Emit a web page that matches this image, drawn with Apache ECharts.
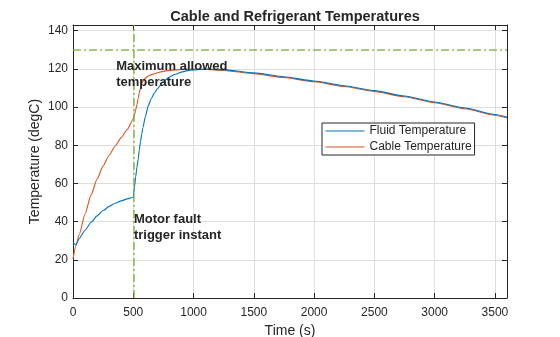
<!DOCTYPE html>
<html>
<head>
<meta charset="utf-8">
<script src="https://cdn.jsdelivr.net/npm/echarts@6/dist/echarts.min.js"></script>
<style>
  html, body { margin: 0; padding: 0; background: #fff; }
  #chart { width: 560px; height: 337px; }
</style>
</head>
<body>
<div id="chart"></div>
<script>
// Simulation time (s) and the two temperature traces (degC)
const timeSec = [0, 25, 50, 100, 150, 200, 250, 300, 350, 400, 450, 500,
  510, 520, 530, 540, 550, 560, 570, 580,
  600, 625, 650, 675, 700,
  750, 800, 850, 900, 950, 1000,
  1100, 1250, 1500, 1750, 2000, 2250, 2500, 2750, 3000, 3250, 3500, 3600];
const fluidTemp = [29, 27.8, 31, 35.5, 39.7, 43, 45.8, 48, 49.6, 50.9, 51.9, 52.8,
  58.2, 63.5, 68.3, 72.5, 77.5, 82, 85.8, 89.2,
  95, 100.8, 104.5, 107.3, 109.6,
  113.5, 115.8, 117.2, 118.3, 119.1, 119.5,
  119.9, 119.6, 117.9, 115.9, 113.7, 111.2, 108.6, 105.8, 102.7, 99.5, 96.1, 94.8];
const cableTemp = [20.5, 27.5, 33, 44, 54, 62.3, 69.2, 74.8, 79.6, 84, 88.3, 93.8,
  96, 98.5, 101.2, 104.5, 107.5, 110, 112, 113.5,
  115.2, 116.3, 117, 117.5, 118,
  118.7, 119.2, 119.5, 119.7, 119.8, 119.8,
  119.7, 119.2, 117.5, 115.5, 113.3, 110.8, 108.2, 105.4, 102.3, 99.1, 95.7, 94.3];

const seriesNames = ['Fluid Temperature', 'Cable Temperature'];
const maxAllowedTemp = 130;   // horizontal limit line
const faultTime = 500;        // vertical fault marker
const xRange = [0, 3600, 500];
const yRange = [0, 143, 20];
const annotations = [
  { text: 'Maximum allowed\ntemperature', at: [358, 125.6] },
  { text: 'Motor fault\ntrigger instant', at: [505, 45.3] }
];

const FONT = '"Liberation Sans", Arial, sans-serif';
const INK = '#262626';
const BLUE = '#0072BD';
const ORANGE = '#D95319';
const GREEN = '#77AC30';

const chart = echarts.init(document.getElementById('chart'), null, { renderer: 'canvas' });

const tickLabel = (step) => (v) => (Math.abs(v / step - Math.round(v / step)) < 1e-9 ? String(v) : '');

function baseAxis(range, extra) {
  return Object.assign({
    type: 'value', min: range[0], max: range[1], interval: range[2],
    axisLine: { show: true, onZero: false, lineStyle: { color: INK, width: 1 } },
    axisTick: { show: true, inside: true, length: 5, lineStyle: { color: INK } },
    splitLine: { show: false },
    axisLabel: { show: false }
  }, extra);
}

const option = {
  animation: false,
  backgroundColor: '#ffffff',
  textStyle: { fontFamily: FONT },
  title: {
    text: 'Cable and Refrigerant Temperatures',
    left: 290, top: 4, textAlign: 'center',
    textStyle: { fontFamily: FONT, fontSize: 14.5, fontWeight: 'bold', color: INK }
  },
  grid: { left: 73, right: 53, top: 25, bottom: 39, containLabel: false, outerBoundsMode: 'none' },
  legend: {
    orient: 'vertical', left: 322, top: 123,
    data: seriesNames,
    itemWidth: 39, itemHeight: 10, itemGap: 4,
    padding: [2, 3, 2, 3],
    borderColor: INK, borderWidth: 1, backgroundColor: '#fff',
    itemStyle: { opacity: 0 },
    lineStyle: { width: 1 },
    textStyle: { fontFamily: FONT, fontSize: 12, color: INK }
  },
  xAxis: [
    baseAxis(xRange, {
      position: 'bottom',
      name: 'Time (s)', nameLocation: 'middle', nameGap: 26,
      nameTextStyle: { fontFamily: FONT, fontSize: 14, color: INK },
      axisTick: { show: true, inside: false, length: -5, lineStyle: { color: INK } },
      splitLine: { show: true, lineStyle: { color: '#dedede', width: 1 } },
      axisLabel: { show: true, margin: 9, fontFamily: FONT, fontSize: 12, color: INK, formatter: tickLabel(xRange[2]) }
    }),
    baseAxis(xRange, { position: 'top' })
  ],
  yAxis: [
    baseAxis(yRange, {
      position: 'left',
      name: 'Temperature (degC)', nameLocation: 'middle', nameGap: 31, nameMoveOverlap: false,
      nameTextStyle: { fontFamily: FONT, fontSize: 14, color: INK },
      axisTick: { show: true, inside: false, length: -5, lineStyle: { color: INK } },
      splitLine: { show: true, lineStyle: { color: '#dedede', width: 1 } },
      axisLabel: { show: true, margin: 5, fontFamily: FONT, fontSize: 12, color: INK, formatter: tickLabel(yRange[2]) }
    }),
    baseAxis(yRange, { position: 'right' })
  ],
  series: [
    {
      name: seriesNames[0], type: 'line', symbol: 'none',
      smooth: 0.2, smoothMonotone: 'x',
      data: timeSec.map((t, i) => [t, fluidTemp[i]]),
      lineStyle: { color: BLUE, width: 1.1 }, itemStyle: { color: BLUE },
      z: 3,
      markLine: {
        silent: true, symbol: 'none',
        label: { show: false },
        lineStyle: { color: GREEN, width: 1.5, type: [8, 3, 2, 3], opacity: 0.85 },
        data: [{ yAxis: maxAllowedTemp }, { xAxis: faultTime }]
      }
    },
    {
      name: seriesNames[1], type: 'line', symbol: 'none',
      smooth: 0.2, smoothMonotone: 'x',
      data: timeSec.map((t, i) => [t, cableTemp[i]]),
      lineStyle: { color: ORANGE, width: 1.1 }, itemStyle: { color: ORANGE },
      z: 2
    }
  ]
};

chart.setOption(option);

// Place the bold annotations at their data anchors (top-left of the text block)
chart.setOption({
  graphic: annotations.map((a) => {
    const p = chart.convertToPixel({ xAxisIndex: 0, yAxisIndex: 0 }, a.at);
    return {
      type: 'text', left: p[0], top: p[1], z: 10,
      style: { text: a.text, fill: INK, font: 'bold 13px ' + FONT, lineHeight: 16 }
    };
  })
});
</script>
</body>
</html>
